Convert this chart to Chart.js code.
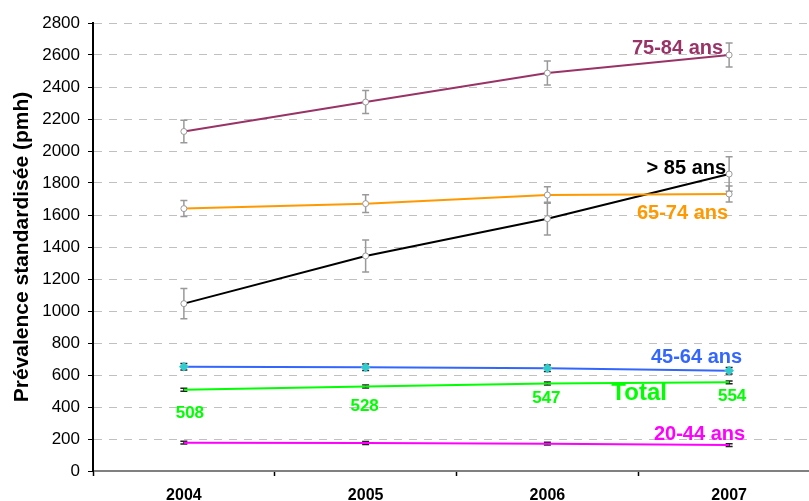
<!DOCTYPE html>
<html>
<head>
<meta charset="utf-8">
<script src="https://cdn.jsdelivr.net/npm/chart.js@4.4.1/dist/chart.umd.min.js"></script>
<style>
    html, body { margin: 0; padding: 0; background: #fff; overflow: hidden; }
    #wrap { width: 809px; height: 501px; overflow: hidden; }
</style>
</head>
<body>
<div id="wrap"><canvas id="prevalence" width="826" height="512"></canvas></div>
<script>
// categories and axis ticks
const years = ['2004', '2005', '2006', '2007'];
const yTicks = [0, 200, 400, 600, 800, 1000, 1200, 1400, 1600, 1800, 2000, 2200, 2400, 2600, 2800];

// series values (pmh) and error half-widths
const age75_84 = [2122, 2306, 2487, 2600];
const err75_84 = [70, 72, 75, 75];
const age65_74 = [1640, 1671, 1725, 1731];
const err65_74 = [50, 55, 52, 50];
const age85plus = [1046, 1344, 1577, 1856];
const err85plus = [95, 100, 102, 108];
const age45_64 = [652, 648, 642, 627];
const err45_64 = [20, 20, 20, 20];
const total = [508, 528, 547, 554];
const errTotal = [9, 9, 9, 9];
const age20_44 = [177, 175, 171, 162];
const err20_44 = [9, 9, 9, 9];

document.addEventListener('DOMContentLoaded', function() {
    const ctx = document.getElementById('prevalence').getContext('2d');
    Chart.defaults.font.family = "'Liberation Sans', Arial, sans-serif";
    Chart.defaults.color = '#000';

    // text next to the curves: [text, dataset, point, dx, dy, align, size, color]
    const curveLabels = [
        ['75-84 ans', 0, 3, -6, -7, 'right', 20, '#993366'],
        ['> 85 ans', 2, 3, -3, -6, 'right', 20, '#000000'],
        ['65-74 ans', 1, 3, -1, 19, 'right', 20, '#FF9900'],
        ['45-64 ans', 3, 3, 13, -13, 'right', 20, '#3366FF'],
        ['Total', 4, 3, -90, 11, 'center', 24, '#00FF00'],
        ['20-44 ans', 5, 3, 16, -11, 'right', 20, '#FF00FF'],
        ['508', 4, 0, 6, 24, 'center', 17, '#00FF00'],
        ['528', 4, 1, -1, 20, 'center', 17, '#00FF00'],
        ['547', 4, 2, -1, 15, 'center', 17, '#00FF00'],
        ['554', 4, 3, 3, 14, 'center', 17, '#00FF00']
    ];

    const errorBars = {
        id: 'errorBars',
        beforeDatasetsDraw(chart) {
            const c = chart.ctx;
            const yScale = chart.scales.y;
            chart.data.datasets.forEach((ds, i) => {
                const meta = chart.getDatasetMeta(i);
                c.save();
                c.strokeStyle = ds.errorColor;
                c.lineWidth = 1.5;
                meta.data.forEach((pt, j) => {
                    const top = yScale.getPixelForValue(ds.data[j] + ds.errors[j]);
                    const bot = yScale.getPixelForValue(ds.data[j] - ds.errors[j]);
                    const w = 3.5;
                    c.beginPath();
                    c.moveTo(pt.x, top); c.lineTo(pt.x, bot);
                    c.moveTo(pt.x - w, top); c.lineTo(pt.x + w, top);
                    c.moveTo(pt.x - w, bot); c.lineTo(pt.x + w, bot);
                    c.stroke();
                });
                c.restore();
            });
        }
    };

    const textLabels = {
        id: 'textLabels',
        afterDatasetsDraw(chart) {
            const c = chart.ctx;
            c.save();
            c.textBaseline = 'middle';
            curveLabels.forEach(l => {
                const pt = chart.getDatasetMeta(l[1]).data[l[2]];
                c.font = 'bold ' + l[6] + "px 'Liberation Sans', Arial, sans-serif";
                c.fillStyle = l[7];
                c.textAlign = l[5];
                c.fillText(l[0], pt.x + l[3], pt.y + l[4]);
            });
            c.restore();
        }
    };

    function series(label, data, errors, color, errorColor, point) {
        return Object.assign({
            label: label,
            data: data,
            errors: errors,
            errorColor: errorColor,
            borderColor: color,
            backgroundColor: color,
            borderWidth: 2,
            tension: 0,
            pointRadius: 0
        }, point || {});
    }

    const openPoint = { pointRadius: 3, pointBackgroundColor: '#fff', pointBorderColor: '#999', pointBorderWidth: 1 };

    new Chart(ctx, {
        type: 'line',
        data: {
            labels: years,
            datasets: [
                series('75-84 ans', age75_84, err75_84, '#993366', '#999', openPoint),
                series('65-74 ans', age65_74, err65_74, '#FF9900', '#999', openPoint),
                series('> 85 ans', age85plus, err85plus, '#000000', '#999', openPoint),
                series('45-64 ans', age45_64, err45_64, '#3366FF', '#222',
                    { pointRadius: 3.5, pointStyle: 'rectRot', pointBackgroundColor: '#33CCCC', pointBorderColor: '#33CCCC' }),
                series('Total', total, errTotal, '#00FF00', '#222'),
                series('20-44 ans', age20_44, err20_44, '#FF00FF', '#222')
            ]
        },
        options: {
            responsive: false,
            animation: false,
            layout: { padding: { top: 23, right: 1, left: 0, bottom: 0 } },
            plugins: {
                legend: { display: false },
                tooltip: { enabled: false }
            },
            scales: {
                x: {
                    type: 'category',
                    offset: true,
                    afterFit: function(scale) { scale.height = 41; },
                    grid: {
                        drawOnChartArea: false,
                        offset: true,
                        tickLength: 5,
                        tickColor: '#000',
                        tickWidth: 1.5
                    },
                    border: { color: '#808080', width: 2 },
                    ticks: {
                        font: { size: 16, weight: 'bold' },
                        color: '#000',
                        padding: 10,
                        maxRotation: 0
                    }
                },
                y: {
                    min: 0,
                    max: 2800,
                    afterFit: function(scale) { scale.width = 93; },
                    afterBuildTicks: function(scale) {
                        scale.ticks = yTicks.map(v => ({ value: v }));
                    },
                    grid: {
                        color: '#c0c0c0',
                        lineWidth: 1,
                        tickLength: 5,
                        tickColor: '#000',
                        tickWidth: 1
                    },
                    border: { color: '#000', width: 2, dash: [8, 7] },
                    ticks: {
                        font: { size: 17 },
                        color: '#000',
                        padding: 8,
                        callback: function(value) {
                            return String(value);
                        }
                    },
                    title: {
                        display: true,
                        text: 'Prévalence standardisée (pmh)',
                        font: { size: 21, weight: 'bold' },
                        color: '#000',
                        padding: { top: 10, bottom: 0 }
                    }
                }
            }
        },
        plugins: [errorBars, textLabels]
    });
});
</script>
</body>
</html>
